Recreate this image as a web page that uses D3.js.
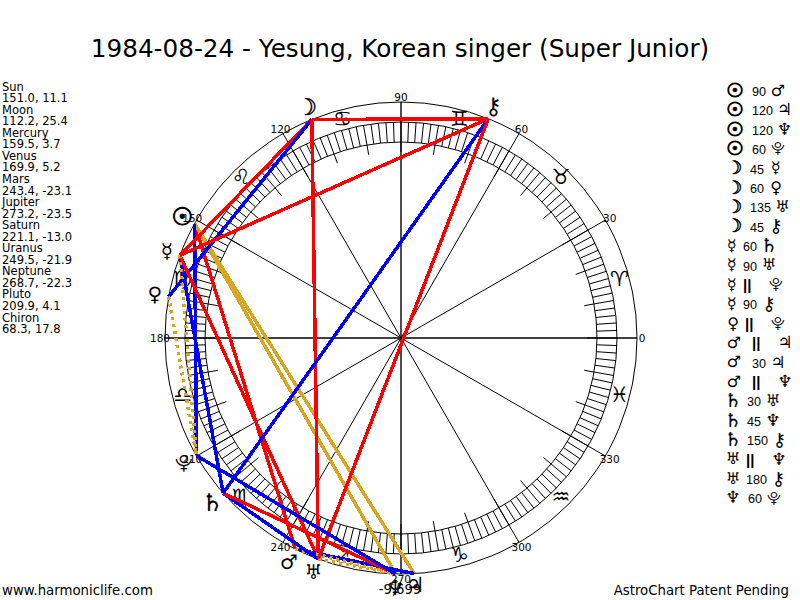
<!DOCTYPE html>
<html><head><meta charset="utf-8">
<style>
html,body{margin:0;padding:0;background:#fff;overflow:hidden}
svg{display:block}
text{fill:#000}
</style>
<script src="https://cdn.jsdelivr.net/npm/d3@7"></script>
</head><body><svg id="c" width="800" height="600"></svg>
<script>
const title = "1984-08-24 - Yesung, Korean singer (Super Junior)";
const planetNames = ["Sun","Moon","Mercury","Venus","Mars","Jupiter","Saturn","Uranus","Neptune","Pluto","Chiron"];
const longitudes = [151.0,112.2,159.5,169.9,243.4,273.2,221.1,249.5,268.7,209.9,68.3];
const latLabels = ["11.1","25.4","3.7","5.2","-23.1","-23.5","-13.0","-21.9","-22.3","4.1","17.8"];
const lonLabels = ["151.0","112.2","159.5","169.9","243.4","273.2","221.1","249.5","268.7","209.9","68.3"];
const planetGlyphs = ["\u2609","\u263D","\u263F","\u2640","\u2642","\u2643","\u2644","\u2645","\u2646","\u2BD3","\u26B7"];
const zodiacGlyphs = ["\u2648","\u2649","\u264A","\u264B","\u264C","\u264D","\u264E","\u264F","\u2650","\u2651","\u2652","\u2653"];
const zodiacMid = [15,45,75,105,135,165,195,225,255,285,315,345];
const degreeLabels = [0,30,60,90,120,150,180,210,240,270,300,330];
const aspectFrom = ["Sun","Sun","Sun","Sun","Moon","Moon","Moon","Moon","Mercury","Mercury","Mercury","Mercury","Venus","Mars","Mars","Mars","Saturn","Saturn","Saturn","Uranus","Uranus","Neptune"];
const aspectType = ["90","120","120","60","45","60","135","45","60","90","||","90","||","||","30","||","30","45","150","||","180","60"];
const aspectTo = ["Mars","Jupiter","Neptune","Pluto","Mercury","Venus","Uranus","Chiron","Saturn","Uranus","Pluto","Chiron","Pluto","Jupiter","Jupiter","Neptune","Uranus","Neptune","Chiron","Neptune","Chiron","Pluto"];
const centerNote = "-9,699";
const footerLeft = "www.harmoniclife.com";
const footerRight = "AstroChart Patent Pending";

const svg = d3.select("#c");
const cx = 401, cy = 338;
const angle = d3.scaleLinear().domain([0,360]).range([0,2*Math.PI]);
const rad = d3.scaleLinear().domain([0,1]).range([0,236]);
const px = (lon,r)=>cx+rad(r)*Math.cos(angle(lon));
const py = (lon,r)=>cy-rad(r)*Math.sin(angle(lon));
const R = {bandIn:196/236,bandOut:216/236,tick:186/236,sign:226/236,planet:250/236,label:241/236};
const lonOf = Object.fromEntries(planetNames.map((n,i)=>[n,longitudes[i]]));
const glyphOf = Object.fromEntries(planetNames.map((n,i)=>[n,planetGlyphs[i]]));
const SANS = "DejaVu Sans";

svg.append("text").attr("x",400).attr("y",57).attr("text-anchor","middle")
  .style("font-family",SANS).style("font-size","24.7px").text(title);

// left table
const left = svg.append("g").style("font-family",SANS).style("font-size","11.5px");
planetNames.forEach((n,i)=>{
  left.append("text").attr("x",2).attr("y",90.5+i*23.1).text(n);
  left.append("text").attr("x",2).attr("y",90.5+i*23.1+11.6).text(lonLabels[i]+", "+latLabels[i]);
});

// circles
const rings = svg.append("g").attr("fill","none").attr("stroke","#000").attr("stroke-width",1);
[1,R.bandOut,R.bandIn].forEach(r=>rings.append("circle").attr("cx",cx).attr("cy",cy).attr("r",rad(r)));
rings.selectAll(".b").data(d3.range(0,360,2)).join("line")
  .attr("x1",d=>px(d,R.bandIn)).attr("y1",d=>py(d,R.bandIn)).attr("x2",d=>px(d,R.bandOut)).attr("y2",d=>py(d,R.bandOut));
rings.selectAll(".t").data(d3.range(0,360,10)).join("line")
  .attr("x1",d=>px(d,R.tick)).attr("y1",d=>py(d,R.tick)).attr("x2",d=>px(d,R.bandIn)).attr("y2",d=>py(d,R.bandIn));
rings.selectAll(".s").data(degreeLabels).join("line")
  .attr("x1",cx).attr("y1",cy).attr("x2",d=>px(d,1)).attr("y2",d=>py(d,1))
  .attr("stroke-width",d=>d%90===0?1.4:1);

// degree labels
svg.append("g").style("font-family",SANS).style("font-size","10.5px").attr("text-anchor","middle")
 .selectAll("text").data(degreeLabels).join("text")
 .attr("x",d=>px(d,R.label)).attr("y",d=>py(d,R.label)+4).text(d=>d);
svg.append("text").attr("x",400).attr("y",594).attr("text-anchor","middle")
 .style("font-family",SANS).style("font-size","13.2px").text(centerNote);

// zodiac
svg.append("g").style("font-family",SANS).attr("text-anchor","middle")
 .selectAll("text").data(zodiacGlyphs).join("text")
 .style("font-size",(d,i)=>i===8?"15px":"21px")
 .attr("x",(d,i)=>px(zodiacMid[i],R.sign)).attr("y",(d,i)=>py(zodiacMid[i],R.sign)+6).text(d=>d+"\uFE0E");

// aspect lines
const style = t=>{
  if(t==="||") return {c:"#DAA520",dash:"3,4"};
  if(t==="120") return {c:"#DAA520"};
  if(t==="60"||t==="30"||t==="150") return {c:"#0000FF"};
  return {c:"#FF0000"};
};
svg.append("g").selectAll("line").data(aspectType).join("line")
 .attr("x1",(d,i)=>px(lonOf[aspectFrom[i]],1)).attr("y1",(d,i)=>py(lonOf[aspectFrom[i]],1))
 .attr("x2",(d,i)=>px(lonOf[aspectTo[i]],1)).attr("y2",(d,i)=>py(lonOf[aspectTo[i]],1))
 .attr("stroke",d=>style(d).c).attr("stroke-dasharray",d=>style(d).dash||null)
 .attr("stroke-width",3.5).attr("shape-rendering","crispEdges");

// planet glyphs
const glyphScale = {Sun:1.2,Moon:1.15,Saturn:1.2,Jupiter:1.05,Neptune:1.05,Chiron:1.15,Pluto:0.9};
const glyphStroke = {Sun:1,Moon:0.5,Saturn:0.2};
function glyph(g,x,y,name,base){
  const size = base*(glyphScale[name]||1);
  g.append("text").attr("x",x).attr("y",y+size*0.36).attr("text-anchor","middle")
    .style("font-family",SANS).style("font-size",size+"px")
    .style("stroke",glyphStroke[name]?"#000":null).style("stroke-width",glyphStroke[name]||null)
    .text(glyphOf[name]+"\uFE0E");
}
const pg = svg.append("g");
planetNames.forEach((n,i)=>glyph(pg,px(longitudes[i],R.planet),py(longitudes[i],R.planet)-(n==="Jupiter"?3:0),n,20));

// aspect list
const numberX = {Sun:752,Moon:750,Mercury:743,Venus:745,Mars:752,Saturn:747,Uranus:746,Neptune:748};
const firstX = {Sun:735,Moon:734,Mercury:732,Venus:733,Mars:734,Saturn:733,Uranus:733,Neptune:733};
const list = svg.append("g");
aspectType.forEach((t,i)=>{
  const y=90+i*19.4, a=aspectFrom[i], b=aspectTo[i], xn=numberX[a];
  glyph(list,firstX[a],y,a,16);
  list.append("text").attr("x",xn).attr("y",y+6).style("font-family","Liberation Sans")
    .style("font-size",t==="||"?"15px":"12.6px").style("font-weight",t==="||"?"bold":null).text(t);
  glyph(list,xn+(t==="||"?33:t.length===3?32.5:26),y,b,16);
});

// footer
const foot = svg.append("g").style("font-family",SANS).style("font-size","13.3px");
foot.append("text").attr("x",2).attr("y",595).text(footerLeft);
foot.append("text").attr("x",789).attr("y",595).attr("text-anchor","end").text(footerRight);
</script></body></html>
